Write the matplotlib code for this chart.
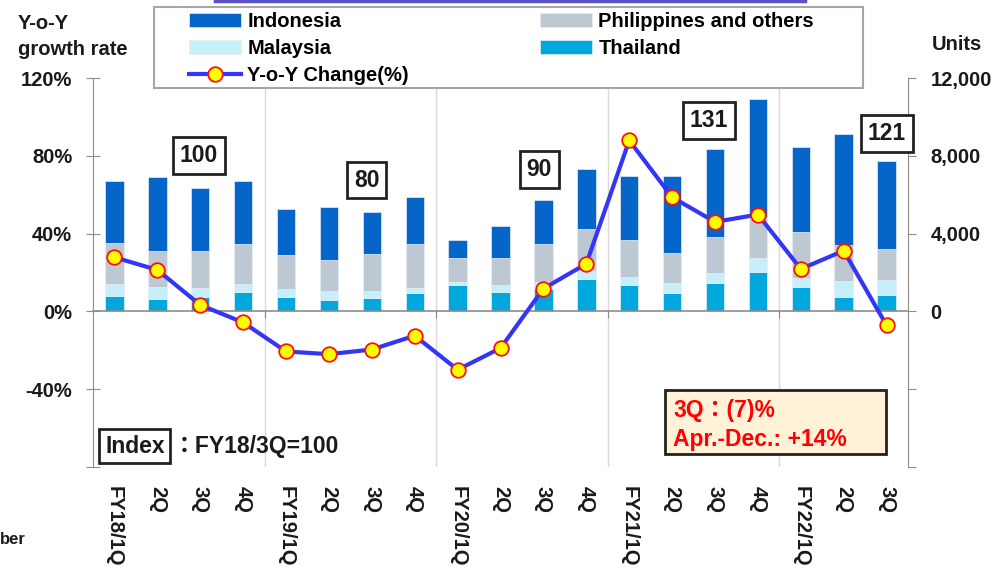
# coding:utf-8
# ASEAN unit sales by country + Y-o-Y change

import numpy as np
import matplotlib
matplotlib.use("Agg")
import matplotlib.pyplot as plt
from matplotlib.patches import Rectangle
from matplotlib.lines import Line2D

# data
quarters = ["FY18/1Q", "2Q", "3Q", "4Q", "FY19/1Q", "2Q", "3Q", "4Q",
            "FY20/1Q", "2Q", "3Q", "4Q", "FY21/1Q", "2Q", "3Q", "4Q",
            "FY22/1Q", "2Q", "3Q"]
thailand = [810, 640, 760, 980, 760, 590, 710, 930, 1370, 1000,
            1150, 1650, 1370, 930, 1460, 2010, 1240, 760, 820]
malaysia = [600, 630, 430, 450, 410, 440, 360, 290, 140, 340,
            340, 410, 380, 510, 520, 720, 500, 820, 800]
philippines = [2110, 1820, 1920, 2020, 1730, 1630, 1870, 2250, 1240, 1430,
               1980, 2180, 1930, 1570, 1830, 2110, 2360, 1840, 1590]
indonesia = [3160, 3830, 3260, 3270, 2390, 2720, 2180, 2390, 940, 1630,
             2270, 3060, 3270, 3940, 4530, 6100, 4350, 5720, 4540]
yoy = [27.8, 21.3, 3.3, -5.7, -20.6, -22.0, -19.6, -12.5, -30.0, -18.9,
       11.7, 24.5, 87.9, 58.7, 46.0, 49.8, 21.8, 31.2, -7.2]
index_labels = ["100", "80", "90", "131", "121"]

# layout (label box centres: x in bar slots, y in % axis)
index_x = [1.97, 5.88, 9.9, 13.85, 18.0]
index_y = [80, 67.5, 73, 98, 91.6]

c_indo = "#0565C8"
c_phl = "#BEC8D3"
c_mal = "#C6EEFB"
c_tha = "#02A7DE"
txt = "#1a1a1a"
gray = "#8c8c8c"
fs = 14.5

plt.rcParams["font.family"] = ["Liberation Sans", "Noto Sans CJK JP", "DejaVu Sans"]
plt.rcParams["font.weight"] = "bold"

fig = plt.figure(figsize=(9.96, 5.69), dpi=100)
ax = fig.add_axes([0.0934, 0.1793, 0.8183, 0.6836])
ax2 = ax.twinx()

x = np.arange(len(quarters))
w = 0.43
tha = np.array(thailand)
mal = np.array(malaysia)
phl = np.array(philippines)
ind = np.array(indonesia)

for b in [3.5, 7.5, 11.5, 15.5]:
    ax.axvline(b, color="#d9d9d9", lw=1, zorder=0)

ec = dict(edgecolor="#e6eef5", linewidth=0.5, zorder=2)
b_tha = ax.bar(x, tha, w, color=c_tha, label="Thailand", **ec)
b_mal = ax.bar(x, mal, w, bottom=tha, color=c_mal, label="Malaysia", **ec)
b_phl = ax.bar(x, phl, w, bottom=tha + mal, color=c_phl,
               label="Philippines and others", **ec)
b_ind = ax.bar(x, ind, w, bottom=tha + mal + phl, color=c_indo,
               label="Indonesia", **ec)

ln, = ax2.plot(x, yoy, color="#3535F5", lw=3, marker="o", markersize=10.5,
               markerfacecolor="#FFFF00", markeredgecolor="#FF1010",
               markeredgewidth=1.3, zorder=3, label="Y-o-Y Change(%)")

ax.set_xlim(-0.5, 18.5)
ax.set_ylim(-8000, 12000)
ax2.set_ylim(-80, 120)

# unit axis on the right
ax.yaxis.tick_right()
ax.set_yticks([-8000, -4000, 0, 4000, 8000, 12000])
ax.set_yticklabels(["", "", "0", "4,000", "8,000", "12,000"])
ax.tick_params(axis="y", direction="out", length=6, color=gray,
               labelsize=fs, labelcolor=txt, pad=10)
ax.spines["top"].set_visible(False)
ax.spines["left"].set_visible(False)
ax.spines["right"].set_color(gray)
ax.spines["bottom"].set_position(("data", 0))
ax.spines["bottom"].set_color(gray)
ax.spines["bottom"].set_linewidth(1.2)
ax.set_xticks([3.5, 7.5, 11.5, 15.5])
ax.set_xticklabels([])
ax.tick_params(axis="x", direction="out", length=5, color=gray)

# % axis on the left
ax2.yaxis.tick_left()
ax2.set_yticks([-80, -40, 0, 40, 80, 120])
ax2.set_yticklabels(["", "-40%", "0%", "40%", "80%", "120%"])
ax2.tick_params(axis="y", direction="inout", length=10, color=gray,
                labelsize=fs, labelcolor=txt, pad=10)
for s in ["top", "bottom", "right"]:
    ax2.spines[s].set_visible(False)
ax2.spines["left"].set_color(gray)

# quarter labels
sec = ax.secondary_xaxis("bottom")
sec.set_xticks(x)
sec.set_xticklabels(quarters, rotation=-90, fontsize=fs, color=txt)
sec.tick_params(length=0, pad=14)
sec.spines["bottom"].set_visible(False)

# index boxes
for lab, xi, yi in zip(index_labels, index_x, index_y):
    ax2.text(xi, yi, lab, ha="center", va="center", fontsize=16.5, color=txt,
             zorder=5, bbox=dict(boxstyle="square,pad=0.3", fc="white",
                                 ec="#222222", lw=2))

ax2.text(0.0147, 0.0368, "Index", transform=ax2.transAxes, fontsize=16.5,
         color=txt, va="baseline",
         bbox=dict(boxstyle="square,pad=0.25", fc="white", ec="#222222", lw=2))
ax2.text(0.098, 0.0368, "：FY18/3Q=100", transform=ax2.transAxes,
         fontsize=16.5, color=txt, va="baseline")

# note box
ax2.add_patch(Rectangle((0.7018, 0.0334), 0.2712, 0.1645, transform=ax2.transAxes,
                        fc="#FFF2D9", ec="#222222", lw=2, zorder=5))
ax2.text(0.7117, 0.1285, "3Q：(7)%", transform=ax2.transAxes, fontsize=16.5,
         color="#FF0000", va="baseline", zorder=6)
ax2.text(0.7117, 0.0548, "Apr.-Dec.: +14%", transform=ax2.transAxes,
         fontsize=16.5, color="#FF0000", va="baseline", zorder=6)

# axis titles
fig.text(18 / 996, 1 - 14 / 569, "Y-o-Y\ngrowth rate", fontsize=fs, color=txt,
         ha="left", va="top", linespacing=1.45)
fig.text(957 / 996, 1 - 45 / 569, "Units", fontsize=fs, color=txt,
         ha="center", va="center")
fig.text(0, 1 - 540 / 569, "ber", fontsize=12, color=txt, ha="left", va="center")

# top decoration line
fig.add_artist(Line2D([215 / 996, 805 / 996], [1 - 1 / 569, 1 - 1 / 569],
                      transform=fig.transFigure, color="#5a52c8", lw=2.5))

# legend frame + legend
fig.add_artist(Rectangle((154 / 996, 1 - 88 / 569), 709 / 996, 81 / 569,
                         transform=fig.transFigure, fc="white", ec="#a6a6a6",
                         lw=1.5, zorder=4))
handles = [b_ind, b_mal, ln, b_phl, b_tha]
labels = [h.get_label() for h in handles]
fig.legend(handles, labels, loc="upper left",
           bbox_to_anchor=(189 / 996, 1 - 12 / 569), ncol=2, frameon=False,
           fontsize=fs, handlelength=2.6, handletextpad=0.3,
           columnspacing=6.5, labelspacing=0.4, borderpad=0,
           borderaxespad=0)

fig.savefig("out.png", dpi=100)
